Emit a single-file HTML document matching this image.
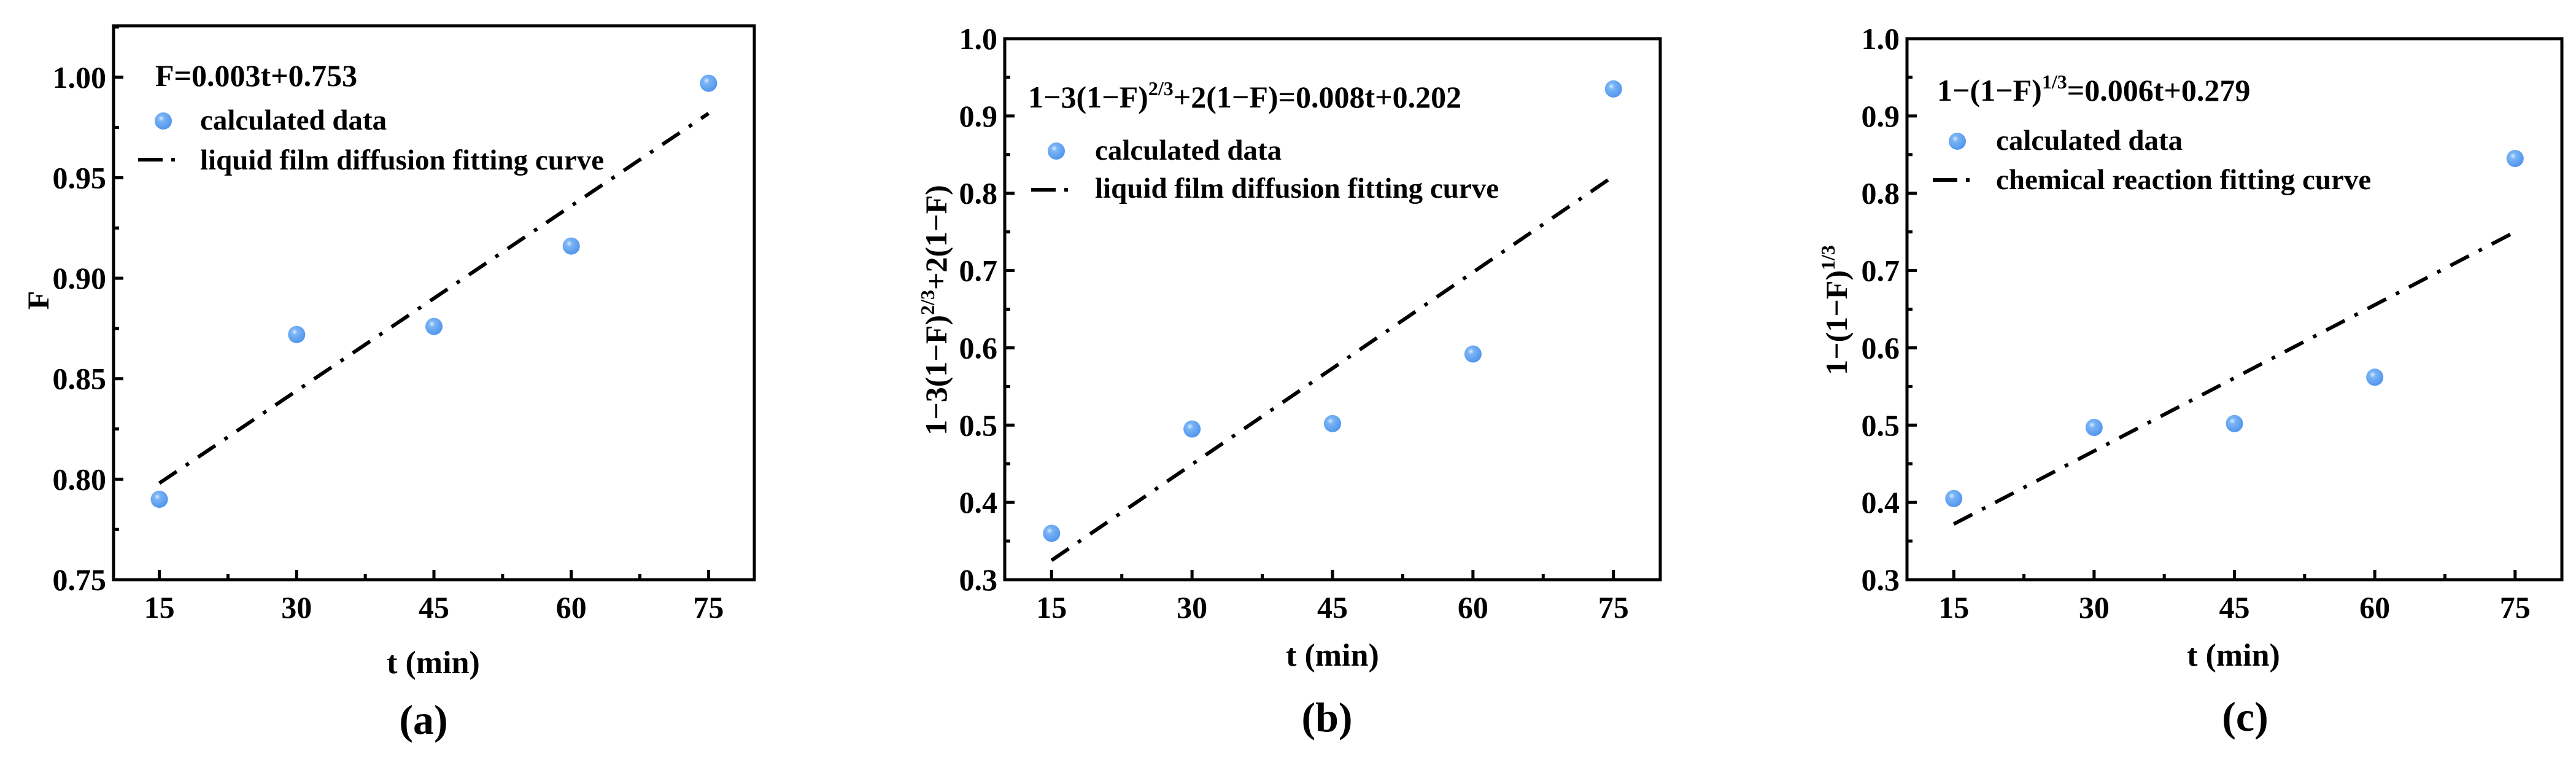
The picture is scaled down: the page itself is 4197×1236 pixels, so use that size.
<!DOCTYPE html>
<html><head><meta charset="utf-8"><style>
html,body{margin:0;padding:0;background:#fff;}
svg{display:block;font-family:"Liberation Serif",serif;font-weight:bold;}
</style></head><body>
<svg id="fig" width="4197" height="1236" viewBox="0 0 4197 1236" xmlns="http://www.w3.org/2000/svg">
<defs>
<radialGradient id="ball" cx="0.38" cy="0.35" r="0.7">
<stop offset="0" stop-color="#dcecff"/><stop offset="0.25" stop-color="#7ab4f5"/><stop offset="1" stop-color="#4d93ec"/>
</radialGradient>
</defs>
</svg>
<script>
var xCats = [15, 30, 45, 60, 75];
var xTicks = ["15", "30", "45", "60", "75"];
var seriesA = [0.790, 0.872, 0.876, 0.916, 0.997];
var fitA = [0.798, 0.982];
var seriesB = [0.360, 0.495, 0.502, 0.592, 0.935];
var fitB = [0.325, 0.822];
var seriesC = [0.405, 0.497, 0.502, 0.562, 0.845];
var fitC = [0.372, 0.750];
var yTicksA = ["0.75", "0.80", "0.85", "0.90", "0.95", "1.00"];
var yTicksBC = ["0.3", "0.4", "0.5", "0.6", "0.7", "0.8", "0.9", "1.0"];

var NS = "http://www.w3.org/2000/svg";
var svg = document.getElementById('fig');
function mk(tag, attrs, parent) {
  var e = document.createElementNS(NS, tag);
  for (var k in attrs) e.setAttribute(k, attrs[k]);
  (parent || svg).appendChild(e);
  return e;
}
var panels = [
  {id:'a', L:185, R:1229, T:42, B:944, ymin:0.75, ymax:1.0256, yt:yTicksA, ystep:0.05, data:seriesA, fit:fitA,
   eqx:253, eqy:140, mx:266, my:197, tx:326, ty:211, lx1:225, lx2:290, ly:260, lty:276,
   leg:'liquid film diffusion fitting curve', ylx:62, yly:489, xtx:706, xty:1096, lbx:690, lby:1195},
  {id:'b', L:1637, R:2705, T:63, B:944, ymin:0.3, ymax:1.0, yt:yTicksBC, ystep:0.1, data:seriesB, fit:fitB,
   eqx:1675, eqy:175, mx:1721, my:246, tx:1784, ty:260, lx1:1680, lx2:1742, ly:309, lty:322,
   leg:'liquid film diffusion fitting curve', ylx:1525, yly:505, xtx:2171, xty:1084, lbx:2162, lby:1191},
  {id:'c', L:3107, R:4174, T:63, B:944, ymin:0.3, ymax:1.0, yt:yTicksBC, ystep:0.1, data:seriesC, fit:fitC,
   eqx:3156, eqy:164, mx:3189, my:230, tx:3252, ty:244, lx1:3149, lx2:3212, ly:293, lty:308,
   leg:'chemical reaction fitting curve', ylx:2992, yly:505, xtx:3639, xty:1084, lbx:3658, lby:1190}
];
panels.forEach(function(p){
  var g = mk('g', {});
  
  
  var xs = function(v){ return p.L + (v - 10) / 70 * (p.R - p.L); };
  var ys = function(v){ return p.B - (v - p.ymin) / (p.ymax - p.ymin) * (p.B - p.T); };
  var fr = mk('rect', {x:p.L, y:p.T, width:p.R-p.L, height:p.B-p.T, fill:'none', stroke:'#000', 'stroke-width':5}, g);
  
  
  xCats.forEach(function(c, i){
    mk('line', {x1:xs(c), x2:xs(c), y1:p.B, y2:p.B-16, stroke:'#000', 'stroke-width':5}, g);
    if (i < xCats.length - 1) mk('line', {x1:xs(c+7.5), x2:xs(c+7.5), y1:p.B, y2:p.B-9, stroke:'#000', 'stroke-width':5}, g);
    var t = mk('text', {x:xs(c), y:p.B+62, 'font-size':50, 'text-anchor':'middle'}, g);
    
    
    t.textContent = xTicks[i];
  });
  p.yt.forEach(function(lab, i){
    var v = p.ymin + i * p.ystep;
    mk('line', {x1:p.L, x2:p.L+16, y1:ys(v), y2:ys(v), stroke:'#000', 'stroke-width':5}, g);
    var mv = v + p.ystep/2;
    if (mv < p.ymax) mk('line', {x1:p.L, x2:p.L+9, y1:ys(mv), y2:ys(mv), stroke:'#000', 'stroke-width':5}, g);
    var t = mk('text', {x:p.L-12, y:ys(v)+17, 'font-size':50, 'text-anchor':'end'}, g);
    
    
    t.textContent = lab;
  });
  var fl = mk('line', {x1:xs(xCats[0]), y1:ys(p.fit[0]), x2:xs(xCats[4]), y2:ys(p.fit[1]), stroke:'#000', 'stroke-width':6, 'stroke-dasharray':'34 18 6 18'}, g);
  
  
  p.data.forEach(function(v, i){
    var c = mk('circle', {cx:xs(xCats[i]), cy:ys(v), r:14, fill:'url(#ball)'}, g);
    
    
  });
  var eq = mk('text', {x:p.eqx, y:p.eqy, 'font-size':50}, g);
  
  
  if (p.id === 'a') eq.textContent = 'F=0.003t+0.753';
  else if (p.id === 'b') eq.innerHTML = '1\u22123(1\u2212F)<tspan font-size="32" dy="-20">2/3</tspan><tspan dy="20">+2(1\u2212F)=0.008t+0.202</tspan>';
  else eq.innerHTML = '1\u2212(1\u2212F)<tspan font-size="32" dy="-20">1/3</tspan><tspan dy="20">=0.006t+0.279</tspan>';
  var lm = mk('circle', {cx:p.mx, cy:p.my, r:14, fill:'url(#ball)'}, g);
  
  
  var lt1 = mk('text', {x:p.tx, y:p.ty, 'font-size':47}, g);
  
  
  lt1.textContent = 'calculated data';
  var ll = mk('line', {x1:p.lx1, x2:p.lx2, y1:p.ly, y2:p.ly, stroke:'#000', 'stroke-width':6, 'stroke-dasharray':'40 14 6 30'}, g);
  
  
  var lt2 = mk('text', {x:p.tx, y:p.lty, 'font-size':47}, g);
  
  
  lt2.textContent = p.leg;
  var yl = mk('text', {x:0, y:0, 'font-size':50, 'text-anchor':'middle', transform:'translate(' + (p.ylx+17) + ',' + p.yly + ') rotate(-90)'}, g);
  
  
  if (p.id === 'a') yl.textContent = 'F';
  else if (p.id === 'b') yl.innerHTML = '1\u22123(1\u2212F)<tspan font-size="32" dy="-20">2/3</tspan><tspan dy="20">+2(1\u2212F)</tspan>';
  else yl.innerHTML = '1\u2212(1\u2212F)<tspan font-size="32" dy="-20">1/3</tspan><tspan dy="20"> </tspan>';
  var xl = mk('text', {x:p.xtx, y:p.xty, 'font-size':52, 'text-anchor':'middle'}, g);
  
  
  xl.textContent = 't (min)';
  var pl = mk('text', {x:p.lbx, y:p.lby, 'font-size':68, 'text-anchor':'middle'}, g);
  
  
  pl.textContent = '(' + p.id + ')';
});
</script>
</body></html>
